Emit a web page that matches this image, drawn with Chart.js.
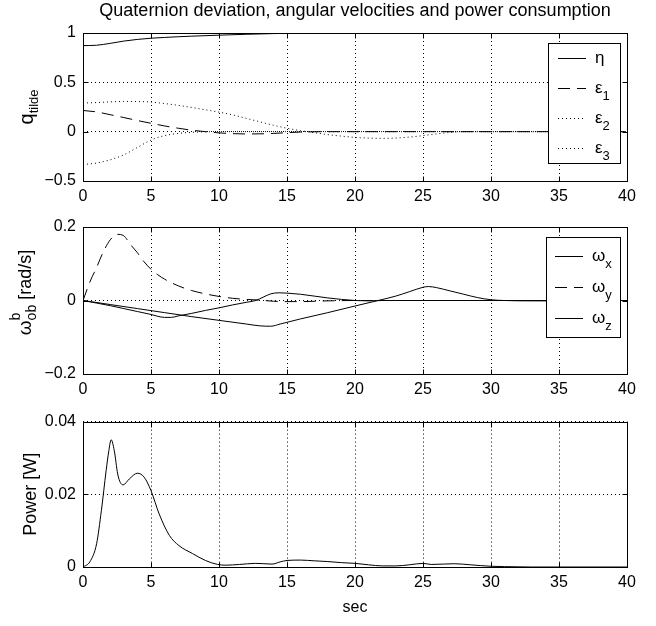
<!DOCTYPE html>
<html><head><meta charset="utf-8">
<script src="https://cdn.jsdelivr.net/npm/chart.js@4.4.1/dist/chart.umd.min.js"></script>
<style>
html,body{margin:0;padding:0;background:#fff;}
#wrap{position:relative;width:656px;height:626px;overflow:hidden;background:#fff;}
canvas{position:absolute;left:0;}
</style></head><body>
<div id="wrap">
<canvas id="c1" width="656" height="210" style="top:0px"></canvas>
<canvas id="c2" width="656" height="200" style="top:205px"></canvas>
<canvas id="c3" width="656" height="221" style="top:405px"></canvas>
</div>
<script>
// ---------- data ----------
const titleText = 'Quaternion deviation, angular velocities and power consumption';
const xTicks = [0,5,10,15,20,25,30,35,40];
const yTicksQ = [-0.5,0,0.5,1];
const yTicksW = [-0.2,0,0.2];
const yTicksP = [0,0.02,0.04];

const qLabels = ['η','ε1','ε2','ε3'];
const wLabels = ['ωx','ωy','ωz'];

const tEta = [0,1,2,3,4,5,6,7,8,10,12,14,16,18,20,25,30,35,40];
const eta  = [0.872,0.876,0.895,0.918,0.935,0.947,0.955,0.962,0.968,0.978,0.987,0.994,0.998,1,1,1,1,1,1];

const tEps1 = [0,1,2,3,4,5,6,7,8,9,10,11,12,13,14,15,16,18,20,25,30,35,40];
const eps1  = [0.215,0.2,0.172,0.143,0.113,0.085,0.058,0.035,0.015,0,-0.012,-0.02,-0.023,-0.022,-0.018,-0.01,-0.004,0,0,0,0,0,0];

const tEps2 = [0,1,2,3,4,5,6,7,8,9,10,11,12,13,14,15,16,17,18,19,20,21,22,23,24,25,26,27,28,30,35,40];
const eps2  = [0.29,0.295,0.302,0.306,0.305,0.3,0.285,0.267,0.245,0.222,0.198,0.17,0.135,0.1,0.065,0.035,0.01,-0.01,-0.03,-0.045,-0.058,-0.065,-0.068,-0.065,-0.055,-0.04,-0.022,-0.008,0,0,0,0];

const tEps3 = [0,1,2,3,4,5,6,7,8,9,10,15,20,25,30,35,40];
const eps3  = [-0.333,-0.318,-0.285,-0.235,-0.16,-0.085,-0.04,-0.018,-0.007,-0.002,0,0,0,0,0,0,0];

const tWx = [0,1,2,3,4,5,5.5,6,6.5,7,8,9,10,11,12,12.7,13.3,13.8,14.4,15,16,17,18,19,20,21,22,25,30,35,40];
const wx  = [0,-0.007,-0.014,-0.022,-0.03,-0.038,-0.043,-0.046,-0.046,-0.042,-0.035,-0.027,-0.02,-0.012,-0.005,0,0.01,0.018,0.021,0.02,0.017,0.012,0.007,0.003,0,-0.001,0,0,0,0,0];

const tWy = [0,0.5,1,1.5,2,2.5,3,3.5,4,4.5,5,5.5,6,7,8,9,10,11,12,13,14,15,16,18,20,25,30,35,40];
const wy  = [0,0.05,0.09,0.133,0.165,0.18,0.176,0.152,0.13,0.105,0.085,0.07,0.058,0.04,0.027,0.018,0.011,0.006,0.003,0.001,-0.002,-0.003,-0.003,-0.001,0,0,0,0,0];

const tWz = [0,2,4,6,8,10,12,13,13.8,14.5,16,18,20,21.7,23,24,25,25.4,26,27,28,29,30,31,33,35,37,40];
const wz  = [0,-0.011,-0.022,-0.033,-0.044,-0.054,-0.064,-0.069,-0.07,-0.064,-0.05,-0.033,-0.015,0,0.012,0.024,0.036,0.038,0.035,0.026,0.017,0.008,0.002,0,-0.001,-0.001,0,0];

const tPow  = [0,0.5,1,1.35,1.7,1.9,2.07,2.3,2.55,2.75,2.95,3.4,4.0,4.5,5,5.6,6.35,7.05,8.05,9,9.9,10.5,11.5,12.7,13.3,13.9,14.5,15,16,17,18,19,20,21,22,23,24,25,25.6,26.5,27.3,28.5,30,31,33,40];
const power = [0,0.0014,0.0064,0.0155,0.0265,0.032,0.035,0.032,0.0256,0.0232,0.0226,0.0242,0.0258,0.0247,0.021,0.0146,0.0087,0.0059,0.0037,0.0018,0.0007,0.0005,0.0007,0.001,0.0009,0.0008,0.0014,0.0018,0.0019,0.0017,0.0015,0.0012,0.001,0.0006,0.0003,0.0003,0.0006,0.001,0.0007,0.0008,0.0009,0.0006,0.0002,0.0001,0,0];

// ---------- fonts ----------
const FONT = '"Liberation Sans", Arial, Helvetica, sans-serif';
const TS = 16;    // tick size
const TTS = 18;   // title size
const LS = 17;    // legend size
const YS = 17;    // y label size

// ---------- helpers ----------
const DASH = { solid: [], dashed: [12,7], dotted: [1,3] };
function series(label, t, v, style){
  return { label, data: t.map((x,i)=>({x, y:v[i]})), borderColor:'#000', borderWidth:1,
    borderDash: DASH[style], pointRadius:0, pointHoverRadius:0, fill:false,
    cubicInterpolationMode:'monotone' };
}
const fmt = v => String(v).replace('-', '\u2212');

function drawRich(ctx, x, y, segs){
  let cx = x, stackStart = null, stackW = 0;
  segs.forEach(s=>{
    ctx.font = s.size+'px '+FONT;
    const w = ctx.measureText(s.t).width;
    const sx = stackStart!==null ? stackStart : cx;
    ctx.fillText(s.t, sx, y + (s.dy||0));
    if (s.stack){ stackStart = sx; stackW = Math.max(stackW, w); }
    else if (stackStart!==null){ cx = stackStart + Math.max(stackW,w); stackStart=null; stackW=0; }
    else cx += w;
  });
  return cx - x;
}
function richWidth(ctx, segs){
  ctx.save(); ctx.globalAlpha=0; const w = drawRich(ctx,0,-1000,segs); ctx.restore(); return w;
}

const matlab = {
  id:'matlab',
  afterDatasetsDraw(chart, args, o){
    const {ctx, chartArea:a, scales:{x, y}} = chart;
    ctx.save();
    ctx.setLineDash([]); ctx.strokeStyle='#000'; ctx.lineWidth=1;
    const L=Math.round(a.left)+0.5, R=Math.round(a.right)+0.5, T=Math.round(a.top)+0.5, B=Math.round(a.bottom)+0.5;
    ctx.beginPath();
    x.ticks.forEach(t=>{const p=Math.round(x.getPixelForValue(t.value))+0.5; ctx.moveTo(p,B); ctx.lineTo(p,B-5); ctx.moveTo(p,T); ctx.lineTo(p,T+5);});
    y.ticks.forEach(t=>{const p=Math.round(y.getPixelForValue(t.value))+0.5; ctx.moveTo(L,p); ctx.lineTo(L+5,p); ctx.moveTo(R,p); ctx.lineTo(R-5,p);});
    ctx.stroke();
    ctx.strokeRect(L,T,R-L,B-T);
    ctx.fillStyle='#000'; ctx.textBaseline='alphabetic'; ctx.textAlign='left';
    // title
    if (o.title){
      ctx.font = o.title.size+'px '+FONT;
      ctx.textAlign='center';
      ctx.fillText(o.title.text, (a.left+a.right)/2, o.title.y);
      ctx.textAlign='left';
    }
    // legend
    if (o.legend){
      const g=o.legend;
      const bx1 = Math.round(a.right) - g.right, bx0 = bx1 - g.w, by0 = Math.round(a.top) + g.top;
      ctx.fillStyle='#fff'; ctx.fillRect(bx0,by0,g.w,g.h);
      ctx.strokeRect(bx0+0.5,by0+0.5,g.w,g.h);
      ctx.fillStyle='#000';
      chart.data.datasets.forEach((ds,i)=>{
        const ry = by0 + g.rows[i] + 0.5;
        ctx.setLineDash(ds.borderDash); ctx.beginPath();
        ctx.moveTo(bx0+g.l0, ry); ctx.lineTo(bx0+g.l1, ry); ctx.stroke();
        ctx.setLineDash([]);
        const main = ds.label.charAt(0), sub = ds.label.slice(1);
        const segs=[{t:main,size:LS,dy:0}];
        if (sub) segs.push({t:sub,size:LS-4,dy:7});
        drawRich(ctx, bx0+g.tx, ry+4, segs);
      });
    }
    // rotated y label
    if (o.ylabel){
      const yl=o.ylabel;
      const w = richWidth(ctx, yl.segs);
      ctx.translate(yl.x, (a.top+a.bottom)/2 + (yl.dy||0));
      ctx.rotate(-Math.PI/2);
      drawRich(ctx, -w/2, 0, yl.segs);
    }
    ctx.restore();
  }
};

function xAxis(h, extra){
  return Object.assign({
    type:'linear', min:0, max:40,
    afterBuildTicks: s=>{ s.ticks = xTicks.map(v=>({value:v})); },
    afterFit: s=>{ s.height = h; },
    ticks:{autoSkip:false, maxRotation:0, padding:6, color:'#000', font:{family:FONT,size:TS}, callback:fmt},
    grid:{color:'#000', lineWidth:1, drawTicks:false},
    border:{display:false, dash:[1,3]}
  }, extra||{});
}
function yAxis(min,max,ticks){
  return {
    type:'linear', min, max,
    afterBuildTicks: s=>{ s.ticks = ticks.map(v=>({value:v})); },
    afterFit: s=>{ s.width = 83; },
    ticks:{autoSkip:false, padding:7, color:'#000', font:{family:FONT,size:TS}, callback:fmt},
    grid:{color:'#000', lineWidth:1, drawTicks:false},
    border:{display:false, dash:[1,3]}
  };
}
function base(){
  return { responsive:false, animation:false, devicePixelRatio:1, events:[],
    plugins:{ legend:{display:false}, tooltip:{enabled:false} } };
}

// ---------- chart 1 ----------
const o1 = base();
o1.layout = {padding:{left:0,right:29,top:33,bottom:0}};
o1.plugins.matlab = {
  title:{text:titleText, size:TTS, y:16},
  legend:{right:7, top:10, w:72, h:120, rows:[15,45,75,105], l0:10, l1:38, tx:47},
  ylabel:{x:33, segs:[{t:'q',size:YS+3,dy:0},{t:'tilde',size:YS-4,dy:5}]}
};
o1.scales = { x: xAxis(29), y: yAxis(-0.5,1,yTicksQ) };
new Chart(document.getElementById('c1'), { type:'line', data:{ datasets:[
  series(qLabels[0], tEta, eta, 'solid'),
  series(qLabels[1], tEps1, eps1, 'dashed'),
  series(qLabels[2], tEps2, eps2, 'dotted'),
  series(qLabels[3], tEps3, eps3, 'dotted')
]}, options:o1, plugins:[matlab] });

// ---------- chart 2 ----------
const o2 = base();
o2.layout = {padding:{left:0,right:29,top:22,bottom:0}};
o2.plugins.matlab = {
  legend:{right:7, top:10, w:74, h:100, rows:[19,50,81], l0:9, l1:37, tx:46},
  ylabel:{x:31, dy:-8, segs:[{t:'ω',size:YS+2,dy:0},{t:'b',size:YS-3,dy:-11,stack:true},{t:'ob',size:YS-3,dy:5},{t:' [rad/s]',size:YS+1,dy:0}]}
};
o2.scales = { x: xAxis(31), y: yAxis(-0.2,0.2,yTicksW) };
new Chart(document.getElementById('c2'), { type:'line', data:{ datasets:[
  series(wLabels[0], tWx, wx, 'solid'),
  series(wLabels[1], tWy, wy, 'dashed'),
  series(wLabels[2], tWz, wz, 'solid')
]}, options:o2, plugins:[matlab] });

// ---------- chart 3 ----------
const o3 = base();
o3.layout = {padding:{left:0,right:29,top:16,bottom:0}};
o3.plugins.matlab = {
  ylabel:{x:36, segs:[{t:'Power [W]',size:YS+1,dy:0}]}
};
o3.scales = {
  x: xAxis(59, {title:{display:true, text:'sec', color:'#000', font:{family:FONT,size:TS,lineHeight:1.2}, padding:{top:0,bottom:9}}}),
  y: yAxis(0,0.04,yTicksP)
};
new Chart(document.getElementById('c3'), { type:'line', data:{ datasets:[
  series('Power', tPow, power, 'solid')
]}, options:o3, plugins:[matlab] });
</script>
</body></html>
